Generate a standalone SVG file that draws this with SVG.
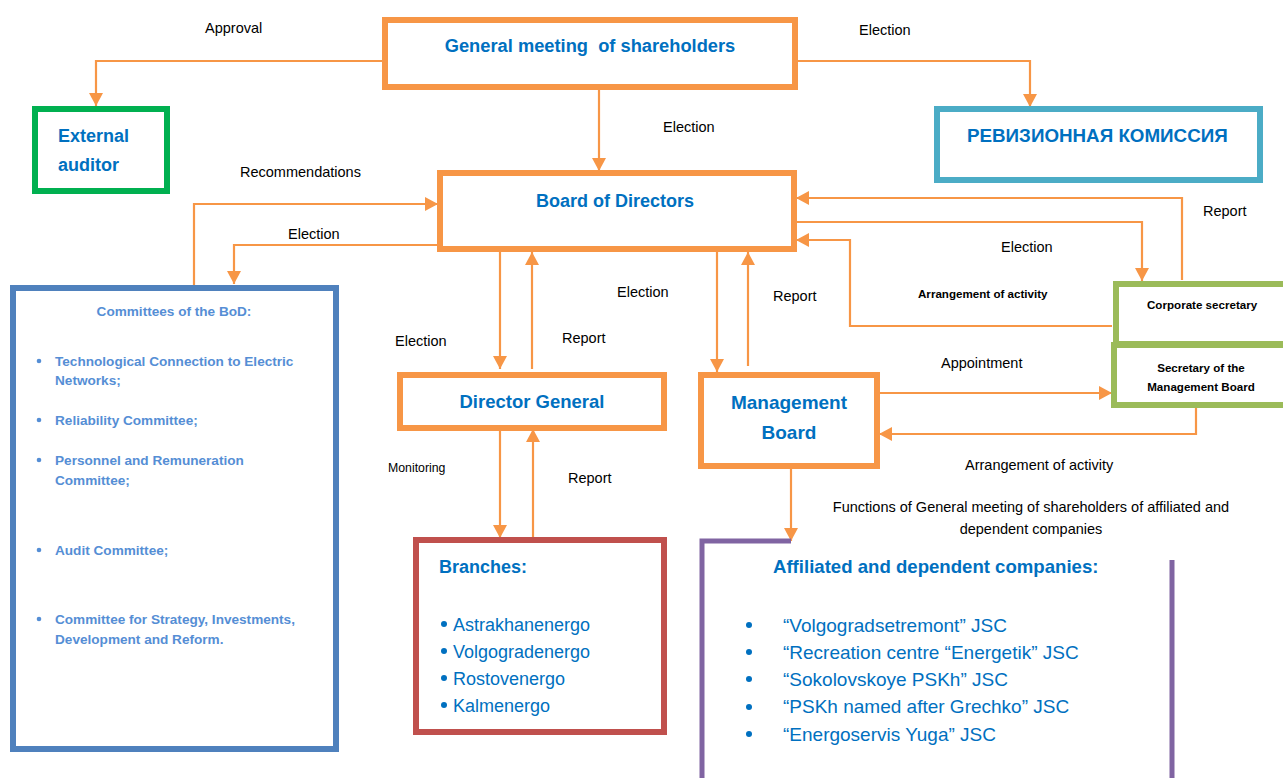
<svg xmlns="http://www.w3.org/2000/svg" width="1283" height="778" viewBox="0 0 1283 778">
<style>
.box{fill:#fff;stroke-width:6}
.or{stroke:#F79646}
.t{font-family:"Liberation Sans",Arial,sans-serif;fill:#0070C0;font-weight:bold;font-size:18px}
.lb{font-family:"Liberation Sans",Arial,sans-serif;fill:#000;font-size:14.5px}
.cm{font-family:"Liberation Sans",Arial,sans-serif;fill:#558ED5;font-weight:bold;font-size:13.6px}
.li{font-family:"Liberation Sans",Arial,sans-serif;fill:#0070C0;font-size:18px}
.sm{font-family:"Liberation Sans",Arial,sans-serif;fill:#000;font-weight:bold;font-size:11.6px}
#connectors path{fill:none;stroke:#F79646;stroke-width:2.2;marker-end:url(#ah)}
</style>
<defs>
<marker id="ah" markerUnits="userSpaceOnUse" markerWidth="14" markerHeight="14" refX="13" refY="7" orient="auto">
<path d="M0,0 L13,7 L0,14 z" fill="#F79646"/>
</marker>
</defs>
<rect width="1283" height="778" fill="#fff"/>

<g id="connectors">
<path d="M382,61 H96 V106"/>
<path d="M798,61 H1030 V107"/>
<path d="M599,90 V171"/>
<path d="M194,285 V204 H438"/>
<path d="M437,245 H234 V284"/>
<path d="M1182,280 V198 H796"/>
<path d="M797,222 H1142 V281"/>
<path d="M1112,326 H850 V240 H796"/>
<path d="M500,252 V369"/>
<path d="M532,369 V252"/>
<path d="M717,252 V372"/>
<path d="M748,366 V252"/>
<path d="M500,431 V538"/>
<path d="M533,538 V429"/>
<path d="M880,393 H1112"/>
<path d="M1196,408 V434 H879"/>
<path d="M791,449 V541"/>
</g>

<g id="conn-labels">
<text class="lb" x="205" y="33">Approval</text>
<text class="lb" x="859" y="35">Election</text>
<text class="lb" x="663" y="132">Election</text>
<text class="lb" x="240" y="177">Recommendations</text>
<text class="lb" x="288" y="239">Election</text>
<text class="lb" x="1203" y="216">Report</text>
<text class="lb" x="1001" y="252">Election</text>
<text class="sm" x="918" y="298">Arrangement of activity</text>
<text class="lb" x="617" y="297">Election</text>
<text class="lb" x="773" y="301">Report</text>
<text class="lb" x="395" y="346">Election</text>
<text class="lb" x="562" y="343">Report</text>
<text class="lb" x="388" y="472" style="font-size:12.3px">Monitoring</text>
<text class="lb" x="568" y="483">Report</text>
<text class="lb" x="941" y="368">Appointment</text>
<text class="lb" x="965" y="470">Arrangement of activity</text>
<text class="lb" x="1031" y="512" text-anchor="middle">Functions of General meeting of shareholders of affiliated and</text>
<text class="lb" x="1031" y="534" text-anchor="middle">dependent companies</text>
</g>

<g id="gm">
<rect class="box or" x="385" y="20" width="410" height="67"/>
<text class="t" x="590" y="52" text-anchor="middle" style="white-space:pre;font-size:18.3px" xml:space="preserve">General meeting  of shareholders</text>
</g>

<g id="auditor">
<rect class="box" stroke="#00B050" x="35" y="109" width="132" height="82"/>
<text class="t" x="58" y="142">External</text>
<text class="t" x="58" y="171">auditor</text>
</g>

<g id="revision">
<rect class="box" stroke="#4BACC6" x="937" y="109" width="323" height="71"/>
<text class="t" x="967" y="142" style="font-size:18.8px">РЕВИЗИОННАЯ КОМИССИЯ</text>
</g>

<g id="bod">
<rect class="box or" x="440" y="173" width="354" height="76"/>
<text class="t" x="615" y="207" text-anchor="middle">Board of Directors</text>
</g>

<g id="committees">
<rect class="box" stroke="#4F81BD" x="13" y="288" width="323" height="461"/>
<text class="cm" x="174" y="316" text-anchor="middle">Committees of the BoD:</text>
<g fill="#558ED5">
<circle cx="39" cy="361" r="2.3"/>
<circle cx="39" cy="420" r="2.3"/>
<circle cx="39" cy="460" r="2.3"/>
<circle cx="39" cy="550" r="2.3"/>
<circle cx="39" cy="619" r="2.3"/>
</g>
<text class="cm" x="55" y="366">Technological Connection to Electric</text>
<text class="cm" x="55" y="385">Networks;</text>
<text class="cm" x="55" y="425">Reliability Committee;</text>
<text class="cm" x="55" y="465">Personnel and Remuneration</text>
<text class="cm" x="55" y="485">Committee;</text>
<text class="cm" x="55" y="555">Audit Committee;</text>
<text class="cm" x="55" y="624">Committee for Strategy, Investments,</text>
<text class="cm" x="55" y="644">Development and Reform.</text>
</g>

<g id="dg">
<rect class="box or" x="400" y="375" width="264" height="53"/>
<text class="t" x="532" y="408" text-anchor="middle" style="font-size:18.5px">Director General</text>
</g>

<g id="mb">
<rect class="box or" x="701" y="375" width="176" height="91"/>
<text class="t" x="789" y="409" text-anchor="middle" style="font-size:19px">Management</text>
<text class="t" x="789" y="439" text-anchor="middle" style="font-size:19px">Board</text>
</g>

<g id="corpsec">
<rect class="box" stroke="#9BBB59" x="1116" y="284" width="200" height="60"/>
<text class="sm" x="1147" y="309">Corporate secretary</text>
</g>

<g id="secmb">
<rect class="box" stroke="#9BBB59" x="1114" y="345" width="200" height="60"/>
<text class="sm" x="1201" y="372" text-anchor="middle">Secretary of the</text>
<text class="sm" x="1201" y="391" text-anchor="middle">Management Board</text>
</g>

<g id="branches">
<rect class="box" stroke="#C0504D" x="416" y="540" width="248" height="192"/>
<text class="t" x="439" y="573">Branches:</text>
<g fill="#0070C0">
<circle cx="444" cy="624" r="3"/>
<circle cx="444" cy="651" r="3"/>
<circle cx="444" cy="678" r="3"/>
<circle cx="444" cy="705" r="3"/>
</g>
<text class="li" x="453" y="631">Astrakhanenergo</text>
<text class="li" x="453" y="658">Volgogradenergo</text>
<text class="li" x="453" y="685">Rostovenergo</text>
<text class="li" x="453" y="712">Kalmenergo</text>
</g>

<g id="affiliated">
<path d="M702,778 V541 H791 M1172,560 V778" fill="none" stroke="#8064A2" stroke-width="5"/>
<text class="t" x="773" y="573" style="font-size:18.6px">Affiliated and dependent companies:</text>
<g fill="#0070C0">
<circle cx="749" cy="625" r="3"/>
<circle cx="749" cy="652" r="3"/>
<circle cx="749" cy="679" r="3"/>
<circle cx="749" cy="707" r="3"/>
<circle cx="749" cy="734" r="3"/>
</g>
<text class="li" x="783" y="632" style="font-size:19px">“Volgogradsetremont” JSC</text>
<text class="li" x="783" y="659" style="font-size:19px">“Recreation centre “Energetik” JSC</text>
<text class="li" x="783" y="686" style="font-size:19px">“Sokolovskoye PSKh” JSC</text>
<text class="li" x="783" y="713" style="font-size:19px">“PSKh named after Grechko” JSC</text>
<text class="li" x="783" y="741" style="font-size:19px">“Energoservis Yuga” JSC</text>
</g>
</svg>
